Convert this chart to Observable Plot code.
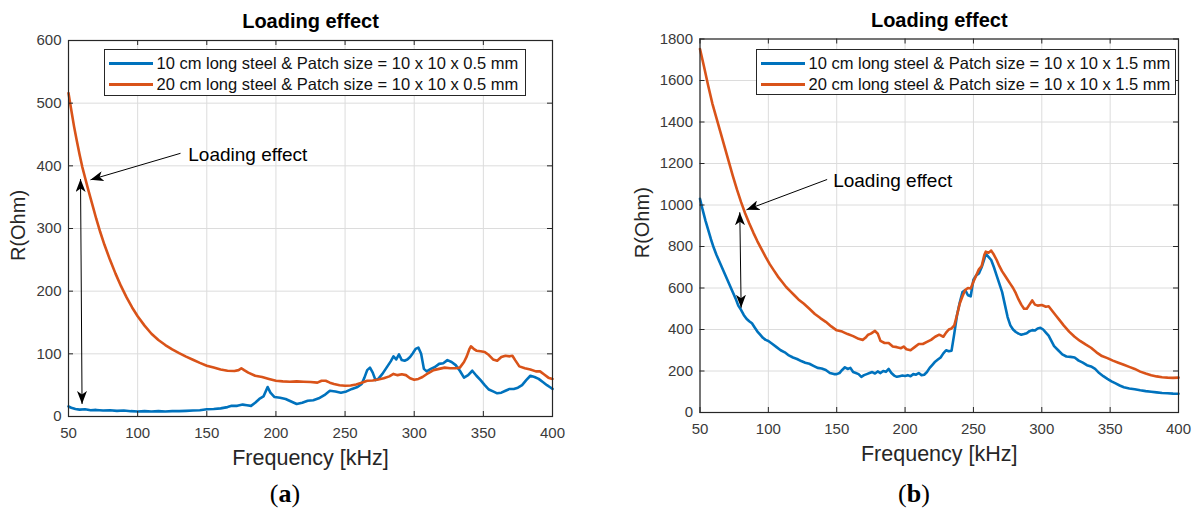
<!DOCTYPE html>
<html>
<head>
<meta charset="utf-8">
<script src="https://cdn.jsdelivr.net/npm/d3@7"></script>
<script src="https://cdn.jsdelivr.net/npm/@observablehq/plot@0.6"></script>
<style>
  body { margin: 0; background: #fff; }
  #fig { position: relative; width: 1195px; height: 514px; overflow: hidden;
         font-family: "Liberation Sans", Arial, Helvetica, sans-serif; }
  .panel { position: absolute; top: 0; }
  .legend { position: absolute; box-sizing: border-box; border: 1px solid #262626;
            background: #fff; padding-top: 2.5px; }
  .legend .row { display: flex; align-items: center; height: 21px; line-height: 21px;
                 font-size: 16.5px; color: #111; white-space: nowrap; }
  .legend .swatch { display: inline-block; width: 44px; height: 3px; margin: 0 4px 0 4px; }
  .cap { position: absolute; width: 80px; text-align: center; font-family: "Liberation Serif", "DejaVu Serif", serif;
         font-size: 26px; line-height: 26px; color: #000; }
</style>
</head>
<body>
<div id="fig"></div>
<script>
// Frequency axis ticks (kHz) shared by both panels
const xTicks = [50, 100, 150, 200, 250, 300, 350, 400];
const yTicksA = [0, 100, 200, 300, 400, 500, 600];
const yTicksB = [0, 200, 400, 600, 800, 1000, 1200, 1400, 1600, 1800];

const seriesColors = ["#0072BD", "#D95319"];
const legendA = ["10 cm long steel & Patch size = 10 x 10 x 0.5 mm",
                 "20 cm long steel & Patch size = 10 x 10 x 0.5 mm"];
const legendB = ["10 cm long steel & Patch size = 10 x 10 x 1.5 mm",
                 "20 cm long steel & Patch size = 10 x 10 x 1.5 mm"];

// (a) patch 0.5 mm — [frequency kHz, R Ohm]
const steel10A = [[50,16],[52,14],[55,12],[58,11],[62,11.5],[66,10],[70,10.5],[75,9.5],[80,10],[85,9],
  [90,9.5],[95,8.5],[100,8],[105,8.5],[110,8],[115,8.5],[120,8],[125,8.5],[130,8.5],[135,9],
  [140,9.5],[145,10],[150,11.5],[155,12],[160,13],[165,15],[168,17],[172,17],[176,19],[179,18],
  [182,17],[185,22],[188,28],[191,32],[194,47],[196,38],[199,31],[203,30],[207,28],[211,24],
  [215,20],[219,22],[223,25],[227,26],[231,29],[235,34],[239,41],[243,40],[247,38],[251,40],
  [255,44],[259,47],[262,52],[264,62],[266,74],[268,78],[270,70],[272,58],[274,60],[277,68],
  [280,78],[283,88],[285,96],[287,91],[289,99],[291,90],[293,89],[295,91],[297,95],[299,101],
  [301,108],[303,110],[305,100],[307,76],[309,72],[312,76],[315,79],[318,84],[321,85],[324,90],
  [327,87],[330,82],[333,73],[336,62],[339,66],[342,73],[345,65],[348,58],[351,50],[354,43],
  [357,40],[360,37],[363,38],[366,41],[369,44],[372,44],[375,46],[378,50],[381,58],[384,65],
  [387,63],[390,60],[393,55],[396,50],[398,47],[400,44]];
const steel20A = [[50,516],[52,489],[54,463],[56,440],[58,418],[60,398],[62,381],[64,364],[66,348],[68,332],
  [70,316],[73,294],[76,274],[80,250],[84,228],[88,208],[92,190],[96,174],[100,160],[105,145],
  [110,132],[115,122],[120,114],[125,107],[130,101],[135,95.5],[140,90.5],[145,85.5],[150,81],[155,78],
  [160,75],[165,73],[170,72.5],[173,74],[175,77],[177,74],[180,70],[185,65],[190,63],[195,60],
  [200,57],[205,56],[210,55.5],[215,56],[220,55.5],[225,55],[230,54],[233,57],[236,57],[239,54],
  [242,52],[246,50],[250,49],[254,49.5],[258,51],[262,54],[266,57],[270,57.5],[274,59],[278,61],
  [282,64],[285,68],[288,66],[291,67.5],[294,66],[297,61],[300,58.5],[303,60],[306,63],[310,69],
  [314,74],[318,76],[322,78],[326,77],[330,77],[333,78],[336,87],[338,96],[340,108],[341,112],
  [343,108],[345,105],[348,104],[351,103],[354,98],[357,91],[360,89],[363,95],[366,97],[369,96],
  [371,97],[373,90],[376,80],[380,77],[384,75],[388,72],[391,72],[394,67],[397,62],[400,60]];

// (b) patch 1.5 mm — [frequency kHz, R Ohm]
const steel10B = [[50,1030],[52,975],[54,925],[56,880],[58,835],[60,795],[62,760],[64,730],[66,700],[68,670],
  [70,640],[72,610],[74,580],[76,550],[78,515],[80,495],[82,470],[84,452],[86,440],[88,430],
  [90,410],[92,390],[94,375],[96,360],[98,350],[100,345],[103,330],[106,315],[109,300],[112,290],
  [115,275],[118,265],[121,258],[124,248],[127,240],[130,235],[133,225],[136,215],[139,212],[142,205],
  [145,190],[148,185],[150,185],[152,190],[154,205],[156,218],[158,210],[160,215],[162,195],[164,190],
  [166,185],[168,172],[170,180],[172,185],[174,190],[176,195],[178,188],[180,198],[182,190],[184,200],
  [186,196],[188,210],[190,190],[192,178],[194,172],[196,175],[198,178],[200,176],[202,180],[204,175],
  [206,185],[208,182],[210,190],[212,180],[214,182],[216,195],[218,215],[220,230],[222,245],[224,255],
  [226,265],[228,285],[230,300],[232,295],[234,298],[236,380],[238,470],[240,530],[242,580],[244,590],
  [246,565],[248,560],[250,640],[252,660],[254,670],[256,700],[258,740],[259,765],[261,750],[263,735],
  [265,700],[267,660],[269,620],[271,580],[273,520],[275,460],[277,420],[279,400],[281,388],[283,380],
  [285,375],[287,378],[289,382],[291,392],[293,397],[295,395],[297,405],[299,408],[301,400],[303,385],
  [305,370],[307,345],[309,320],[312,300],[315,280],[318,270],[321,268],[324,265],[327,250],[330,240],
  [333,228],[336,222],[339,210],[342,190],[345,175],[348,162],[351,150],[354,140],[357,130],[360,122],
  [364,116],[368,112],[372,107],[376,103],[380,100],[384,97],[388,94],[392,93],[396,91],[400,90]];
const steel20B = [[50,1752],[53,1665],[56,1575],[59,1490],[62,1420],[65,1350],[68,1280],[71,1210],[74,1140],[77,1075],
  [80,1015],[83,960],[86,912],[89,867],[92,825],[95,787],[98,750],[101,715],[104,685],[107,655],
  [110,630],[113,605],[116,585],[119,565],[122,545],[126,524],[130,500],[134,475],[138,455],[142,437],
  [146,415],[150,396],[154,390],[158,378],[162,368],[166,355],[169,350],[171,360],[173,375],[175,380],
  [178,393],[180,380],[182,345],[185,335],[188,335],[191,318],[194,315],[197,310],[199,318],[201,305],
  [204,300],[207,315],[210,330],[213,330],[216,340],[219,350],[222,365],[225,375],[228,365],[230,385],
  [232,400],[234,405],[236,420],[238,470],[240,525],[242,560],[244,590],[246,600],[248,598],[250,630],
  [252,660],[254,690],[256,705],[258,760],[259,775],[261,770],[262,775],[263,780],[265,760],[267,735],
  [269,705],[271,680],[273,660],[275,640],[277,620],[279,600],[281,575],[283,545],[285,520],[287,500],
  [289,500],[291,520],[293,540],[295,520],[297,515],[300,518],[303,510],[305,512],[307,495],[310,470],
  [313,445],[316,420],[320,390],[324,365],[328,345],[332,328],[336,312],[340,290],[344,272],[348,262],
  [352,250],[356,240],[360,230],[364,220],[368,210],[372,197],[376,188],[380,180],[384,174],[388,170],
  [392,168],[396,167],[400,168]];

// "Loading effect" annotations: pointer arrow and double-headed gap arrow
const arrowsA = [{x1: 131, y1: 420, x2: 65.9, y2: 377.7, both: false},
                 {x1: 59.8, y1: 20, x2: 58.7, y2: 379, both: true}];
const arrowsB = [{x1: 143, y1: 1123, x2: 84, y2: 977, both: false},
                 {x1: 80.1, y1: 505, x2: 79.1, y2: 965, both: true}];
const noteA = [{x: 136.6, y: 417, text: "Loading effect"}];
const noteB = [{x: 147.4, y: 1117, text: "Loading effect"}];

const fig = document.getElementById("fig");
const NS = "http://www.w3.org/2000/svg";

function panel(cfg) {
  const {id, left, width, height, mL, mR, mT, mB, yDomain, yTicks, series, arrows, note, legend, legendBox, caption, capX} = cfg;
  const fw = width - mL - mR, fh = height - mT - mB;
  const ink = "#262626";
  const marks = [
    Plot.gridX(xTicks, {stroke: "#dcdcdc", strokeOpacity: 1}),
    Plot.gridY(yTicks, {stroke: "#dcdcdc", strokeOpacity: 1}),
    ...series.map((s, i) => Plot.line(s, {x: d => d[0], y: d => d[1], stroke: seriesColors[i], strokeWidth: 2.6, strokeLinejoin: "round"})),
    Plot.link(arrows, {x1: "x1", y1: "y1", x2: "x2", y2: "y2", stroke: "#000", strokeWidth: 1}),
    Plot.text(note, {x: "x", y: "y", text: "text", textAnchor: "start", lineAnchor: "middle", fontSize: 19, fill: "#000"}),
    // inward tick marks on all four sides of the box
    Plot.tickX(xTicks, {x: d => d, stroke: ink, insetTop: fh - 5}),
    Plot.tickX(xTicks, {x: d => d, stroke: ink, insetBottom: fh - 5}),
    Plot.tickY(yTicks, {y: d => d, stroke: ink, insetRight: fw - 5}),
    Plot.tickY(yTicks, {y: d => d, stroke: ink, insetLeft: fw - 5}),
    Plot.frame({stroke: ink, strokeWidth: 1.2}),
    Plot.axisX({ticks: xTicks, tickSize: 0, tickPadding: 11, fontSize: 15, fill: "#3a3a3a"}),
    Plot.axisY({ticks: yTicks, tickSize: 0, tickPadding: 7, fontSize: 15, fill: "#3a3a3a", tickFormat: d => String(d)}),
    Plot.text(["Loading effect"], {frameAnchor: "top", lineAnchor: "middle", textAnchor: "middle", dy: -18.5, fontSize: 20, fontWeight: "bold", fill: "#000"}),
    Plot.text(["Frequency [kHz]"], {frameAnchor: "bottom", lineAnchor: "middle", textAnchor: "middle", dy: 42, fontSize: 21.5, fill: "#262626"}),
    Plot.text(["R(Ohm)"], {frameAnchor: "left", lineAnchor: "middle", textAnchor: "middle", rotate: -90, dx: cfg.yLabelDx, dy: -3, fontSize: 20, fill: "#262626"})
  ];
  const svg = Plot.plot({
    width, height,
    marginLeft: mL, marginRight: mR, marginTop: mT, marginBottom: mB,
    x: {domain: [50, 400]},
    y: {domain: yDomain},
    style: {fontFamily: "'Liberation Sans', Arial, sans-serif", background: "transparent", overflow: "visible", color: ink},
    marks
  });
  // filled, notched arrowheads for the annotation arrows
  const defs = document.createElementNS(NS, "defs");
  const marker = document.createElementNS(NS, "marker");
  marker.setAttribute("id", id + "-head");
  marker.setAttribute("viewBox", "0 0 13 10");
  marker.setAttribute("refX", "13");
  marker.setAttribute("refY", "5");
  marker.setAttribute("markerWidth", "13");
  marker.setAttribute("markerHeight", "10");
  marker.setAttribute("markerUnits", "userSpaceOnUse");
  marker.setAttribute("orient", "auto-start-reverse");
  const head = document.createElementNS(NS, "path");
  head.setAttribute("d", "M0,0L13,5L0,10L3.5,5Z");
  head.setAttribute("fill", "#000");
  marker.appendChild(head);
  defs.appendChild(marker);
  svg.insertBefore(defs, svg.firstChild);
  svg.querySelectorAll('g[aria-label="link"] path, g[aria-label="link"] line').forEach((p, i) => {
    p.setAttribute("marker-end", `url(#${id}-head)`);
    if (arrows[i] && arrows[i].both) p.setAttribute("marker-start", `url(#${id}-head)`);
  });
  svg.classList.add("panel");
  svg.style.left = left + "px";
  fig.appendChild(svg);

  // legend box
  const lg = document.createElement("div");
  lg.className = "legend";
  Object.assign(lg.style, {left: legendBox.x + "px", top: legendBox.y + "px", width: legendBox.w + "px", height: legendBox.h + "px"});
  legend.forEach((label, i) => {
    const row = document.createElement("div");
    row.className = "row";
    const sw = document.createElement("span");
    sw.className = "swatch";
    sw.style.background = seriesColors[i];
    const tx = document.createElement("span");
    tx.textContent = label;
    row.appendChild(sw);
    row.appendChild(tx);
    lg.appendChild(row);
  });
  fig.appendChild(lg);

  // sub-figure caption
  const cap = document.createElement("div");
  cap.className = "cap";
  cap.innerHTML = "(<b>" + caption + "</b>)";
  cap.style.left = (capX - 40) + "px";
  cap.style.top = "481px";
  fig.appendChild(cap);
}

panel({id: "pa", left: 0, width: 597, height: 514, mL: 68, mR: 45, mT: 40, mB: 98,
  yDomain: [0, 600], yTicks: yTicksA, series: [steel10A, steel20A], arrows: arrowsA, note: noteA,
  legend: legendA, legendBox: {x: 103.5, y: 49, w: 422, h: 47}, caption: "a", capX: 285, yLabelDx: -49.5});
panel({id: "pb", left: 597, width: 598, height: 514, mL: 102.5, mR: 17, mT: 38.5, mB: 102,
  yDomain: [0, 1800], yTicks: yTicksB, series: [steel10B, steel20B], arrows: arrowsB, note: noteB,
  legend: legendB, legendBox: {x: 755.5, y: 49, w: 420.5, h: 46}, caption: "b", capX: 914, yLabelDx: -57.5});
</script>
</body>
</html>
